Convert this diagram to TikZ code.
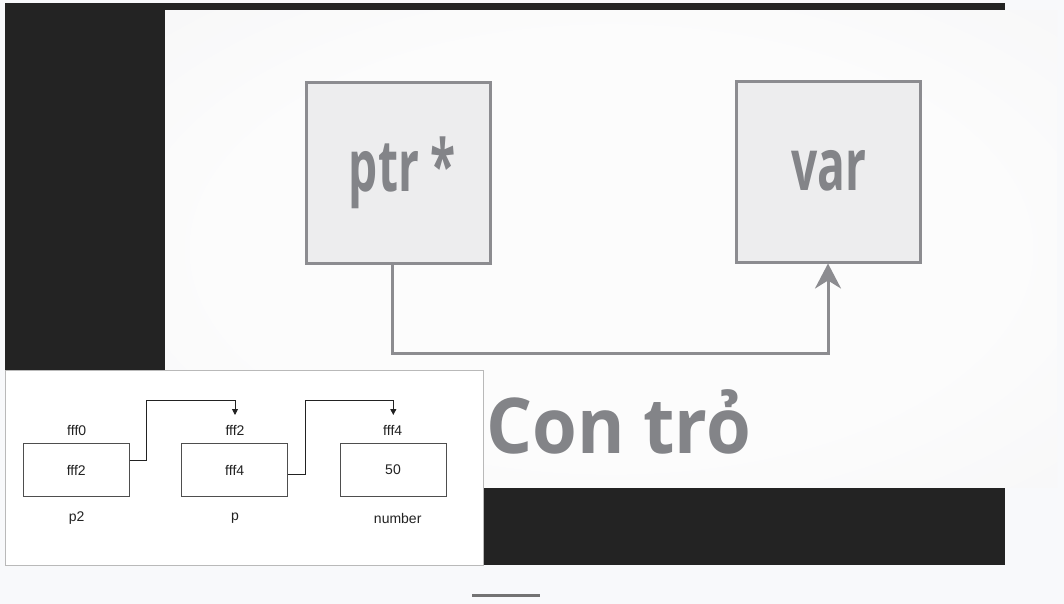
\documentclass[tikz,border=0pt]{standalone}
\usepackage{fontspec}
\setmainfont{Liberation Sans}
\newfontfamily\opensans{Open Sans}
\usetikzlibrary{arrows.meta}
\definecolor{pagebg}{HTML}{F8F9FB}
\definecolor{darkfr}{HTML}{232323}
\definecolor{imgedge}{HTML}{ECECEE}
\definecolor{imgmid}{HTML}{F5F5F6}
\definecolor{imgcore}{HTML}{FCFCFC}
\definecolor{boxfill}{HTML}{EDEDEE}
\definecolor{boxline}{HTML}{8C8C90}
\definecolor{txtgray}{HTML}{838488}
\definecolor{inkdark}{HTML}{222222}
\pgfdeclareradialshading{imgshade}{\pgfpointorigin}{color(0bp)=(imgcore); color(22bp)=(imgcore); color(45bp)=(imgmid); color(72bp)=(imgedge)}
\tikzset{
  bigbox/.style={draw=boxline, fill=boxfill, line width=3pt, minimum width=184pt, minimum height=181pt, inner sep=0pt},
  bigtxt/.style={font=\opensans\bfseries\fontsize{72}{72}\selectfont, text=txtgray, inner sep=0pt, anchor=base},
  bigarrow/.style={draw=boxline, line width=3pt, -{Stealth[length=25pt,width=26pt,inset=8pt]}},
  membox/.style={draw=inkdark!80, line width=0.9pt, minimum width=106pt, minimum height=53pt, inner sep=0pt, font=\fontsize{14}{14}\selectfont, text=inkdark},
  memlbl/.style={font=\fontsize{14}{14}\selectfont, text=inkdark, inner sep=0pt},
  memarrow/.style={draw=inkdark, line width=0.9pt, -{Triangle[length=6pt,width=6pt]}}
}
\begin{document}
\begin{tikzpicture}[x=1pt,y=-1pt]
\useasboundingbox (0,0) rectangle (1064,604);
\fill[pagebg] (0,0) rectangle (1064,604);
\fill[darkfr] (5,3) rectangle (1005,565);
\shade[shading=imgshade] (165,11) rectangle (1057,487);
% top picture
\node[bigbox] (ptrbox) at (398.7,173.3) {};
\node[bigbox, minimum height=180pt] (varbox) at (828,172) {};
\node[bigtxt] (ptrtxt) at (402.5,191.7) {\scalebox{0.64}[1]{ptr *}};
\node[bigtxt] (vartxt) at (828.5,190.7) {\scalebox{0.64}[1]{var}};
\coordinate (bend) at (392.7,353.3);
\draw[bigarrow] (ptrbox.south -| bend) -- (bend) -| (varbox.south);
\node[font=\opensans\bfseries\fontsize{77}{77}\selectfont, text=txtgray, inner sep=0pt, anchor=base west] (title) at (486,453.3) {\scalebox{0.94}[1]{Con trỏ}};
% memory panel
\fill[white] (5,370) rectangle (483,565);
\draw[gray!55, line width=0.6pt] (5,370) rectangle (483,565);
\node[membox] (b1) at (76.3,470) {fff2};
\node[membox] (b2) at (234.7,470) {fff4};
\node[membox] (b3) at (393,470) {50};
\node[memlbl] (t1) at (76.7,430) {fff0};
\node[memlbl] (t2) at (235,430) {fff2};
\node[memlbl] (t3) at (392.7,430) {fff4};
\node[memlbl] (n1) at (76.7,518) {p2};
\node[memlbl] (n2) at (235,518) {p};
\node[memlbl] (n3) at (397.7,518) {number};
\coordinate (k1) at (146.7,400);
\coordinate (k2) at (305,400);
\coordinate (e1) at (235,415);
\coordinate (e2) at (393.3,415);
\draw[memarrow] ([yshift=9.3pt]b1.east) -| (k1) -| (e1);
\draw[memarrow] ([yshift=-4.3pt]b2.east) -| (k2) -| (e2);
% bottom bar
\draw[line width=3pt, gray!90!black] (472,595) -- (540,595);
\end{tikzpicture}
\end{document}
